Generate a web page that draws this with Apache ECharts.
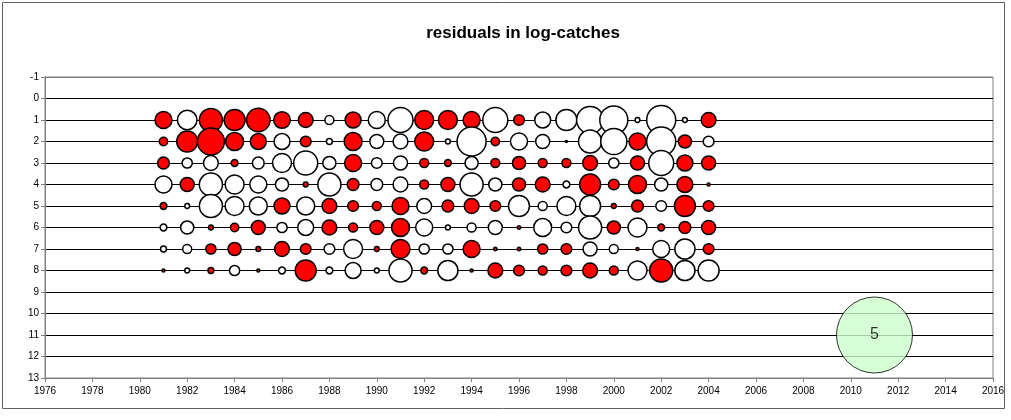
<!DOCTYPE html>
<html>
<head>
<meta charset="utf-8">
<script src="https://cdn.jsdelivr.net/npm/echarts@6/dist/echarts.min.js"></script>
<style>
html,body{margin:0;padding:0;background:#fff;}
#c{width:1011px;height:420px;}
</style>
</head>
<body>
<div id="c"></div>
<script>
// years and ages
var years = [1981,1982,1983,1984,1985,1986,1987,1988,1989,1990,1991,1992,1993,1994,1995,1996,1997,1998,1999,2000,2001,2002,2003,2004];
var ages = [1,2,3,4,5,6,7,8];
// residuals in log-catches, one array per age (positive = red, negative = white)
var age1 = [0.25,-0.33,0.46,0.38,0.48,0.24,0.19,-0.07,0.22,-0.25,-0.54,0.31,0.31,0.25,-0.54,0.10,-0.22,-0.38,-0.63,-0.68,-0.02,-0.73,-0.02,0.19];
var age2 = [0.06,0.38,0.63,0.28,0.22,-0.22,0.10,-0.03,0.28,-0.17,-0.19,0.31,-0.02,-0.73,0.06,-0.25,-0.17,0.004,-0.46,-0.59,0.25,-0.73,0.15,-0.10];
var age3 = [0.12,-0.09,-0.19,0.04,-0.12,-0.31,-0.50,-0.15,0.25,-0.10,-0.17,0.07,0.04,-0.15,0.07,0.15,0.07,0.07,0.19,-0.09,0.17,-0.54,0.22,0.17];
var age4 = [-0.25,0.17,-0.46,-0.31,-0.25,-0.15,0.02,-0.46,0.12,-0.12,-0.19,0.07,0.17,-0.46,-0.15,0.15,0.19,-0.04,0.38,0.10,0.28,-0.15,0.22,0.008];
var age5 = [0.04,-0.02,-0.46,-0.31,-0.28,0.22,-0.28,0.19,0.10,0.07,0.25,-0.19,0.12,0.19,0.10,-0.38,-0.07,-0.31,-0.38,0.02,0.12,-0.10,0.38,0.10];
var age6 = [-0.04,-0.15,0.02,0.06,0.17,-0.09,-0.22,0.19,0.07,0.17,0.28,-0.25,-0.02,-0.07,-0.17,0.01,-0.28,-0.10,-0.46,0.15,-0.31,0.04,0.12,0.17];
var age7 = [-0.03,-0.07,0.09,0.15,0.02,0.19,0.10,-0.10,-0.31,0.02,0.31,-0.09,-0.09,0.25,0.01,0.01,0.09,0.10,-0.17,-0.07,0.008,-0.25,-0.35,0.10];
var age8 = [0.008,-0.02,0.03,-0.09,0.008,-0.04,0.38,-0.04,-0.22,-0.02,-0.46,0.04,-0.35,0.008,0.19,0.10,0.07,0.10,0.19,0.07,-0.31,0.46,-0.35,-0.38];
var residuals = [age1,age2,age3,age4,age5,age6,age7,age8];
// reference bubble
var refYear = [2011];
var refAge = [11];
var refValue = [5];
// axis ticks
var xTicks = {min:1976, max:2016, step:2};
var yTicks = {min:-1, max:13, step:1};

var REF_DIAM = 76;
function diam(v){ return REF_DIAM*Math.sqrt(Math.abs(v)/refValue[0]); }

var pts = [];
ages.forEach(function(a, i){
  years.forEach(function(y, j){
    var v = residuals[i][j];
    pts.push({value:[y, a, v], itemStyle:{color: v >= 0 ? '#FF0000' : '#FFFFFF'}});
  });
});

var gridColors = [];
for (var k = yTicks.min; k <= yTicks.max; k++) {
  gridColors.push((k === yTicks.min || k === yTicks.max) ? '#808080' : '#000000');
}

var chart = echarts.init(document.getElementById('c'), null, {renderer:'canvas'});
chart.setOption({
  animation:false,
  backgroundColor:'#FFFFFF',
  title:{
    text:'residuals in log-catches',
    left:518, top:20, textAlign:'center',
    textStyle:{fontFamily:'Liberation Sans, Arial, sans-serif', fontWeight:'bold', fontSize:17, color:'#000'}
  },
  graphic:[{
    type:'rect', shape:{x:2.5, y:2.5, width:1002, height:406}, silent:true, z:-10,
    style:{fill:null, stroke:'#606060', lineWidth:1}
  }],
  grid:{left:45, right:18, top:77, bottom:42, show:true, borderColor:'#808080', borderWidth:1, backgroundColor:'#FFFFFF'},
  xAxis:{
    type:'value', min:xTicks.min, max:xTicks.max, interval:xTicks.step,
    axisLine:{show:true, onZero:false, lineStyle:{color:'#808080', width:1}},
    axisTick:{show:true, length:4, lineStyle:{color:'#808080'}},
    axisLabel:{color:'#000', fontSize:10, fontFamily:'Liberation Sans, Arial, sans-serif', margin:8,
      formatter:function(v){ return String(v); }},
    splitLine:{show:false}
  },
  yAxis:{
    type:'value', inverse:true, min:yTicks.min, max:yTicks.max, interval:yTicks.step,
    axisLine:{show:true, onZero:false, lineStyle:{color:'#808080', width:1}},
    axisTick:{show:true, length:4, lineStyle:{color:'#808080'}},
    axisLabel:{color:'#000', fontSize:10, fontFamily:'Liberation Sans, Arial, sans-serif', margin:6,
      formatter:function(v){ return String(v); }},
    splitLine:{show:true, lineStyle:{color:gridColors, width:1}}
  },
  series:[{
    type:'scatter',
    data:pts,
    symbol:'circle',
    symbolSize:function(val){ return diam(val[2]); },
    itemStyle:{borderColor:'#000000', borderWidth:1.5, opacity:1},
    emphasis:{disabled:true},
    z:3
  },{
    type:'scatter',
    data:refYear.map(function(y, i){ return [y, refAge[i], refValue[i]]; }),
    symbol:'circle',
    symbolSize:function(val){ return diam(val[2]); },
    itemStyle:{color:'#CCFFCC', borderColor:'#000000', borderWidth:1},
    label:{show:true, position:'inside', formatter:function(p){return String(p.value[2]);}, color:'#000', fontSize:16, fontFamily:'Liberation Sans, Arial, sans-serif'},
    emphasis:{disabled:true},
    z:3
  }]
});
</script>
</body>
</html>
